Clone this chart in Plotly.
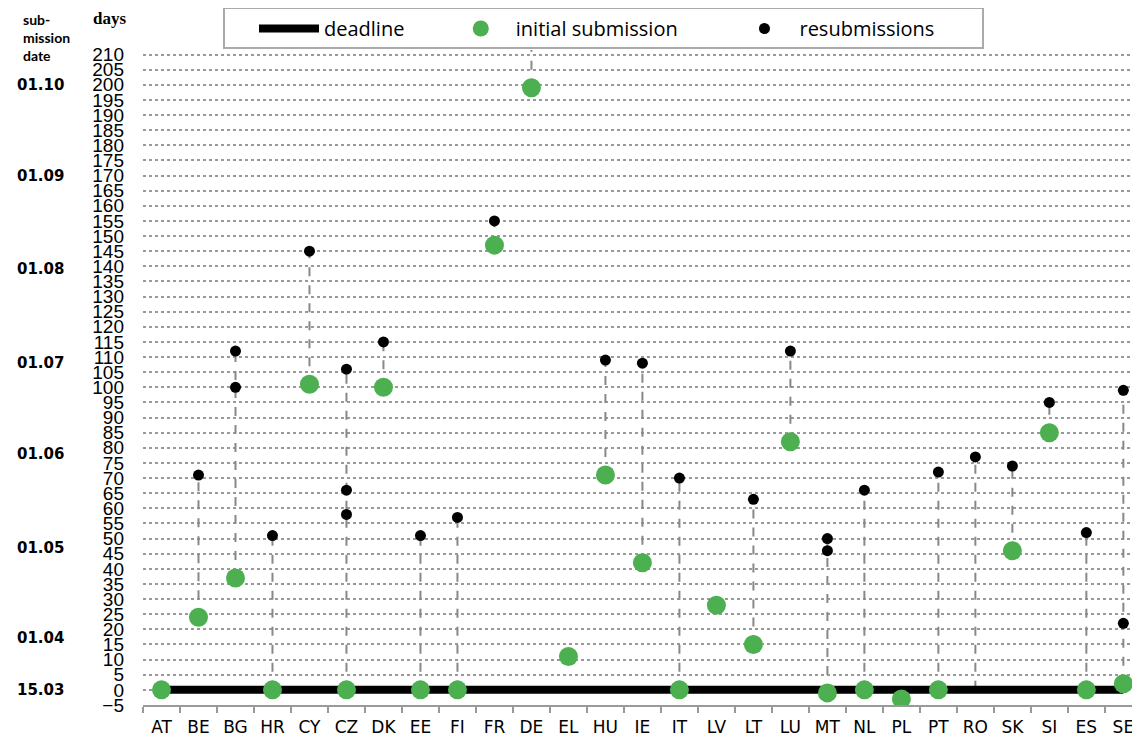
import plotly.graph_objects as go

countries = ["AT", "BE", "BG", "HR", "CY", "CZ", "DK", "EE", "FI", "FR", "DE", "EL", "HU", "IE",
             "IT", "LV", "LT", "LU", "MT", "NL", "PL", "PT", "RO", "SK", "SI", "ES", "SE"]
initial = [0, 24, 37, 0, 101, 0, 100, 0, 0, 147, 199, 11, 71, 42,
           0, 28, 15, 82, -1, 0, -3, 0, None, 46, 85, 0, 2]
resubmissions = [[], [71], [100, 112], [51], [145], [58, 66, 106], [115], [51], [57], [155], [215], [], [109], [108],
                 [70], [], [63], [112], [46, 50], [66], [], [72], [77], [74], [95], [52], [22, 99]]
deadline = [0] * len(countries)
date_labels = ["15.03", "01.04", "01.05", "01.06", "01.07", "01.08", "01.09", "01.10"]
date_days = [0, 17, 47, 78, 108, 139, 170, 200]

# connectors between initial submission (or deadline) and latest resubmission
cx, cy = [], []
for c, ini, res in zip(countries, initial, resubmissions):
    vals = [ini if ini is not None else 0] + res
    if res:
        cx += [c, c, None]
        cy += [min(vals), max(vals), None]

rx, ry = [], []
for c, res in zip(countries, resubmissions):
    for v in res:
        rx.append(c)
        ry.append(v)

NB = "&nbsp;"
fig = go.Figure()
fig.add_trace(go.Scatter(x=cx, y=cy, mode="lines", line=dict(color="#888888", width=2, dash="dash"),
                         showlegend=False, hoverinfo="skip"))
fig.add_trace(go.Scatter(x=countries, y=deadline, mode="lines", name="deadline" + NB * 7,
                         line=dict(color="black", width=8)))
fig.add_trace(go.Scatter(x=countries, y=initial, mode="markers", name="initial submission" + NB * 9,
                         marker=dict(color="#4CAF50", size=19)))
fig.add_trace(go.Scatter(x=rx, y=ry, mode="markers", name="resubmissions",
                         marker=dict(color="black", size=11)))

# page has an 8px body margin; plot area in page pixels: x 143..1140, y 50..705
PW = 997.0
PH = 655.0
def px_x(p):
    return (p - 143) / PW
def px_y(p):
    return 1 + (50 - p) / PH

for lab, d in zip(date_labels, date_days):
    fig.add_annotation(x=px_x(15), xref="paper", y=d, yref="y", text=f"<b>{lab}</b>", showarrow=False,
                       xanchor="left", yanchor="middle",
                       font=dict(family="DejaVu Sans", size=15, color="black"))

fig.add_annotation(x=px_x(21), xref="paper", y=px_y(9), yref="paper",
                   text="<b>sub-<br>mission<br>date</b>", showarrow=False, align="left",
                   xanchor="left", yanchor="top", font=dict(family="Lato", size=14, color="black"))
fig.add_annotation(x=px_x(91), xref="paper", y=px_y(7), yref="paper",
                   text="<b>days</b>", showarrow=False, xanchor="left", yanchor="top",
                   font=dict(family="Liberation Serif", size=17, color="black"))

# legend frame
fig.add_shape(type="rect", xref="paper", yref="paper", x0=px_x(224), x1=px_x(983), y0=px_y(48), y1=px_y(8),
              line=dict(color="#aaaaaa", width=2), fillcolor="white", layer="above")

fig.update_layout(
    width=1132, height=732,
    margin=dict(l=135, r=0, t=42, b=35, autoexpand=False),
    plot_bgcolor="white", paper_bgcolor="white",
    legend=dict(orientation="h", x=px_x(254), xanchor="left", y=px_y(9), yref="paper", yanchor="top",
                bgcolor="rgba(0,0,0,0)", borderwidth=0,
                font=dict(family="Open Sans", size=20, color="black"),
                itemsizing="trace", itemwidth=60, tracegroupgap=0),
)
fig.update_xaxes(type="category", categoryorder="array", categoryarray=countries,
                 range=[-0.5, 26.45], showgrid=False, showline=True, linecolor="#999999",
                 linewidth=2, ticks="outside", tickson="boundaries", ticklen=6, tickcolor="#999999",
                 tickwidth=2, ticklabelstandoff=6,
                 tickfont=dict(family="DejaVu Sans", size=17, color="black"))
fig.update_yaxes(range=[-5, 211.5], tick0=0, dtick=5, showgrid=True, gridcolor="#999999", griddash="dot",
                 gridwidth=1.5, zeroline=False, showline=False, ticks="", ticklabelstandoff=18,
                 tickfont=dict(family="Liberation Sans", size=19, color="black"))

fig.write_html("out.html")
